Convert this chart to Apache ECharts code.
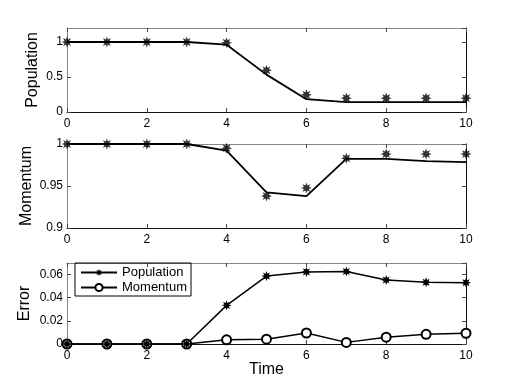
<!DOCTYPE html>
<html>
<head>
<meta charset="utf-8">
<script src="https://cdn.jsdelivr.net/npm/echarts@6/dist/echarts.min.js"></script>
<style>
  html, body { margin: 0; padding: 0; background: #fff; }
  #chart { width: 515px; height: 388px; }
</style>
</head>
<body>
<div id="chart"></div>
<script>
// time steps
const time = [0, 1, 2, 3, 4, 5, 6, 7, 8, 9, 10];

// top panel: population (line = model, stars = reference)
const popLine = [1, 1, 1, 1, 0.962, 0.534, 0.183, 0.14, 0.14, 0.14, 0.14];
const popStar = [1, 1, 1, 1, 0.99, 0.596, 0.245, 0.198, 0.198, 0.198, 0.198];

// middle panel: momentum
const momLine = [1, 1, 1, 1, 0.992, 0.9425, 0.938, 0.9824, 0.9822, 0.9796, 0.9785];
const momStar = [1, 1, 1, 1, 0.995, 0.938, 0.9476, 0.983, 0.988, 0.988, 0.988];

// bottom panel: error
const errPop = [0, 0, 0, 0, 0.0334, 0.0587, 0.0623, 0.0626, 0.0553, 0.0533, 0.053];
const errMom = [0, 0, 0, 0, 0.0036, 0.0042, 0.0095, 0.0014, 0.0059, 0.0084, 0.0093];

const yNames = ['Population', 'Momentum', 'Error'];
const yRanges = [[0, 1.2, 0.5], [0.9, 1, 0.05], [0, 0.07, 0.02]];
const yNameGaps = [26, 32, 34];

// asterisk-like marker
function starPath() {
  let pts = [];
  for (let k = 0; k < 16; k++) {
    const a = k * Math.PI / 8;
    const r = k % 2 ? 0.5 : 1;
    pts.push((Math.cos(a) * r).toFixed(3) + ' ' + (Math.sin(a) * r).toFixed(3));
  }
  return 'path://M' + pts.join(' L') + ' Z';
}
const STAR = starPath();

const grids = [
  { left: 67, right: 49, top: 28, height: 84 },
  { left: 67, right: 49, top: 144, height: 84 },
  { left: 67, right: 49, top: 263, height: 81 }
];

const font = 'Liberation Sans, Arial, sans-serif';
const frame = (c) => ({ show: true, onZero: false, lineStyle: { color: c, width: 1 } });
const tick = { show: true, inside: true, length: 4, lineStyle: { color: '#444' } };

let xAxis = [], yAxis = [];
grids.forEach((g, i) => {
  xAxis.push({
    type: 'value', gridIndex: i, min: 0, max: 10, interval: 2, position: 'bottom',
    axisLine: frame('#111'), axisTick: tick, splitLine: { show: false },
    axisLabel: { color: '#000', fontSize: 12, fontFamily: font, margin: 6 },
    name: i == 2 ? 'Time' : '', nameLocation: 'middle', nameGap: 18, nameMoveOverlap: false,
    nameTextStyle: { color: '#000', fontSize: 16, fontFamily: font }
  });
  xAxis.push({
    type: 'value', gridIndex: i, min: 0, max: 10, interval: 2, position: 'top',
    axisLine: frame('#888'), axisTick: tick, splitLine: { show: false }, axisLabel: { show: false }
  });
  const r = yRanges[i];
  yAxis.push({
    type: 'value', gridIndex: i, min: r[0], max: r[1], interval: r[2], position: 'left',
    axisLine: frame('#888'), axisTick: tick, splitLine: { show: false },
    axisLabel: { color: '#000', fontSize: 12, fontFamily: font, margin: 4, showMaxLabel: i == 1 },
    name: yNames[i], nameLocation: 'middle', nameGap: yNameGaps[i], nameMoveOverlap: false,
    nameTextStyle: { color: '#000', fontSize: 16, fontFamily: font }
  });
  yAxis.push({
    type: 'value', gridIndex: i, min: r[0], max: r[1], interval: r[2], position: 'right',
    axisLine: frame('#111'), axisTick: tick, splitLine: { show: false }, axisLabel: { show: false }
  });
});

const pairs = (ys) => time.map((t, k) => [t, ys[k]]);

const option = {
  animation: false,
  backgroundColor: '#fff',
  grid: grids,
  xAxis: xAxis,
  yAxis: yAxis,
  legend: {
    data: ['Population', 'Momentum'],
    orient: 'vertical', left: 75, top: 263,
    borderColor: '#000', borderWidth: 1, borderRadius: 0,
    padding: [3, 4, 2, 5], itemGap: 2, itemWidth: 36, itemHeight: 9,
    textStyle: { color: '#000', fontSize: 13, fontFamily: font }
  },
  series: [
    { name: 'popLine', type: 'line', xAxisIndex: 0, yAxisIndex: 0, data: pairs(popLine),
      showSymbol: false, lineStyle: { color: '#000', width: 1.8 } },
    { name: 'popStar', type: 'scatter', xAxisIndex: 0, yAxisIndex: 0, data: pairs(popStar),
      symbol: STAR, symbolSize: 11, itemStyle: { color: '#000' } },
    { name: 'momLine', type: 'line', xAxisIndex: 2, yAxisIndex: 2, data: pairs(momLine),
      showSymbol: false, lineStyle: { color: '#000', width: 1.8 } },
    { name: 'momStar', type: 'scatter', xAxisIndex: 2, yAxisIndex: 2, data: pairs(momStar),
      symbol: STAR, symbolSize: 11, itemStyle: { color: '#000' } },
    { name: 'Momentum', type: 'line', xAxisIndex: 4, yAxisIndex: 4, data: pairs(errMom),
      symbol: 'emptyCircle', symbolSize: 9, showAllSymbol: true,
      lineStyle: { color: '#000', width: 1.5 },
      itemStyle: { color: '#000', borderWidth: 1.6 } },
    { name: 'Population', type: 'line', xAxisIndex: 4, yAxisIndex: 4, data: pairs(errPop),
      symbol: STAR, symbolSize: 10, showAllSymbol: true,
      lineStyle: { color: '#000', width: 1.5 }, itemStyle: { color: '#000' } }
  ]
};

echarts.init(document.getElementById('chart')).setOption(option);
</script>
</body>
</html>
